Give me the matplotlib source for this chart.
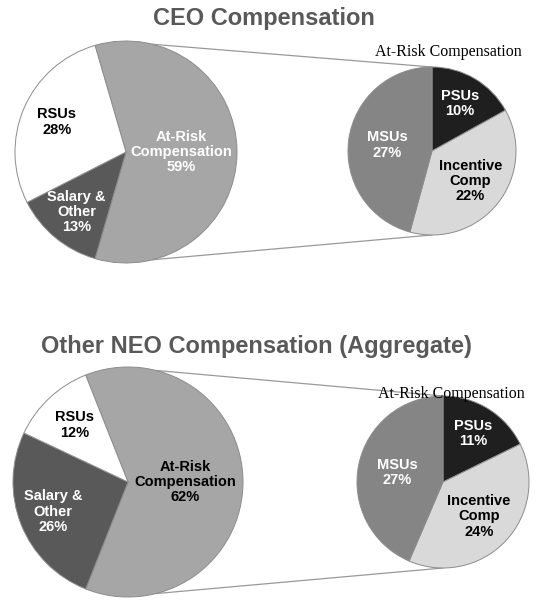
import matplotlib
matplotlib.use("Agg")
import matplotlib.pyplot as plt
import numpy as np

# ---- data ---------------------------------------------------------------
main_names = ["At-Risk\nCompensation", "Salary &\nOther", "RSUs"]
risk_names = ["PSUs", "Incentive\nComp", "MSUs"]

ceo_title = "CEO Compensation"
ceo_main = [59, 13, 28]
ceo_risk = [10, 22, 27]

neo_title = "Other NEO Compensation (Aggregate)"
neo_main = [62, 26, 12]
neo_risk = [11, 24, 27]

risk_subtitle = "At-Risk Compensation"

# ---- styles -------------------------------------------------------------
main_colors = ["#a6a6a6", "#595959", "#ffffff"]
risk_colors = ["#1f1f1f", "#d9d9d9", "#858585"]
risk_text_colors = ["white", "black", "white"]
main_label_dist = [0.5, 0.7, 0.68]
risk_label_dist = [0.66, 0.58, 0.54]
EDGE = "#8c8c8c"
LABEL_FONT = dict(family="Liberation Sans", fontweight="bold", fontsize=10.5)


def draw_labels(ax, wedges, names, values, center, radius, dists, colors):
    for w, name, val, d, c in zip(wedges, names, values, dists, colors):
        mid = np.deg2rad((w.theta1 + w.theta2) / 2)
        x = center[0] + d * radius * np.cos(mid)
        y = center[1] + d * radius * np.sin(mid)
        ax.text(x, y, f"{name}\n{val}%", ha="center", va="center",
                color=c, linespacing=1.12, **LABEL_FONT)


def draw_group(ax, title, title_xy, main_vals, risk_vals, main_c, main_r,
               risk_c, risk_r, sub_xy, main_text_colors):
    ax.text(*title_xy, title, ha="center", va="center", fontsize=17,
            fontweight="bold", color="#595959", family="Liberation Sans")

    start = main_vals[0] / sum(main_vals) * 180
    wedges, _ = ax.pie(main_vals, colors=main_colors, startangle=start,
                       counterclock=False, center=main_c, radius=main_r,
                       wedgeprops=dict(edgecolor=EDGE, linewidth=0.7))
    draw_labels(ax, wedges, main_names, main_vals, main_c, main_r,
                main_label_dist, main_text_colors)

    wedges2, _ = ax.pie(risk_vals, colors=risk_colors, startangle=90,
                        counterclock=False, center=risk_c, radius=risk_r,
                        wedgeprops=dict(edgecolor=EDGE, linewidth=0.7))
    draw_labels(ax, wedges2, risk_names, risk_vals, risk_c, risk_r,
                risk_label_dist, risk_text_colors)

    # connector lines between the two pies
    for sign in (1, -1):
        a = np.deg2rad(76 * sign)
        x0 = main_c[0] + main_r * np.cos(a)
        y0 = main_c[1] + main_r * np.sin(a)
        x1 = risk_c[0]
        y1 = risk_c[1] + sign * risk_r
        ax.plot([x0, x1], [y0, y1], color="#999999", lw=0.9, zorder=0)

    ax.text(*sub_xy, risk_subtitle, ha="center", va="center", fontsize=11.5,
            family="Liberation Serif", color="black")


fig = plt.figure(figsize=(5.37, 6.03), dpi=100)
ax = fig.add_axes([0, 0, 1, 1])

draw_group(ax, ceo_title, (264, 585), ceo_main, ceo_risk,
           (126, 451), 111, (432, 452), 84, (448, 551),
           ["white", "white", "black"])
draw_group(ax, neo_title, (256, 256), neo_main, neo_risk,
           (128, 121), 115, (443, 121), 86, (451, 209),
           ["black", "white", "black"])

ax.set_xlim(0, 537)
ax.set_ylim(0, 603)
ax.set_aspect("equal")
ax.axis("off")

fig.savefig("out.png", dpi=100)
